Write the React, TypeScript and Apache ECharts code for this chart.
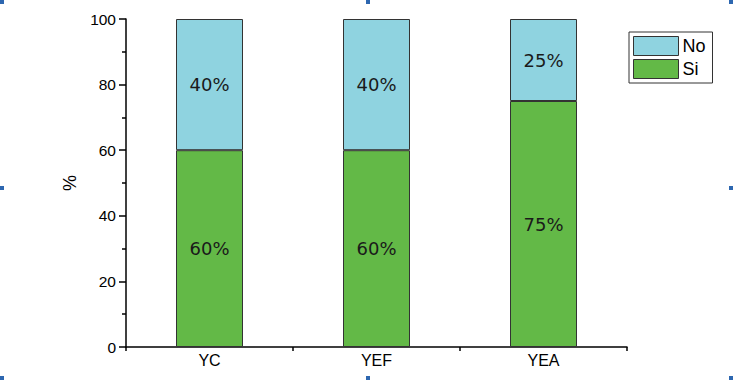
import React, { useEffect, useRef } from "react";
import * as echarts from "echarts";

const categories = ["YC", "YEF", "YEA"];
const siValues = [60, 60, 75];
const noValues = [40, 40, 25];
const yTicks = { min: 0, max: 100, interval: 20 };

export default function App() {
  const ref = useRef<HTMLDivElement>(null);
  useEffect(() => {
    if (!ref.current) return;
    const chart = echarts.init(ref.current, null, { renderer: "svg" });
    const font = "Arial, 'Liberation Sans', sans-serif";
    const wide = "'DejaVu Sans', Arial, sans-serif";
    const handle = (x: number, y: number) => ({
      type: "rect",
      shape: { x, y, width: 4, height: 4 },
      style: { fill: "#2d67b0" },
      silent: true,
    });
    chart.setOption({
      animation: false,
      backgroundColor: "#ffffff",
      textStyle: { fontFamily: font },
      grid: { left: 126, right: 106, top: 19, bottom: 33, containLabel: false },
      legend: {
        data: ["No", "Si"],
        orient: "vertical",
        left: 629,
        top: 32,
        itemWidth: 45,
        itemHeight: 19,
        itemGap: 3,
        padding: [4, 7, 4, 4],
        borderColor: "#333",
        borderWidth: 1,
        textStyle: { fontSize: 18, color: "#000", fontFamily: font, padding: [0, 0, 0, -1] },
        icon: "rect",
        itemStyle: { borderColor: "#333", borderWidth: 1 },
      },
      xAxis: [
        {
          type: "category",
          data: categories,
          axisLine: { lineStyle: { color: "#000", width: 1.5 } },
          axisTick: { alignWithLabel: true, length: 5, lineStyle: { color: "#000", width: 1.5 } },
          axisLabel: { color: "#000", fontSize: 16, margin: 5, fontFamily: font },
        },
        {
          type: "category",
          data: categories,
          position: "bottom",
          axisLine: { show: false },
          axisTick: { show: true, alignWithLabel: false, length: 4, lineStyle: { color: "#000", width: 1.5 } },
          axisLabel: { show: false },
        },
      ],
      yAxis: {
        type: "value",
        min: yTicks.min,
        max: yTicks.max,
        interval: yTicks.interval,
        name: "%",
        nameLocation: "middle",
        nameGap: 47,
        nameRotate: 90,
        nameTextStyle: { fontSize: 18, color: "#000", fontFamily: font },
        axisLine: { show: true, lineStyle: { color: "#000", width: 1.5 } },
        axisTick: { show: true, length: 7, lineStyle: { color: "#000", width: 1.5 } },
        minorTick: { show: true, splitNumber: 2, length: 4, lineStyle: { color: "#000", width: 1.5 } },
        splitLine: { show: false },
        axisLabel: { color: "#000", fontSize: 15.5, margin: 10, fontFamily: font },
      },
      series: [
        {
          name: "Si",
          type: "bar",
          stack: "total",
          barWidth: 67,
          data: siValues,
          itemStyle: { color: "#63b947", borderColor: "#333", borderWidth: 1 },
          label: { show: true, position: "inside", formatter: "{c}%", fontSize: 18, color: "#1a1a1a", fontFamily: wide },
        },
        {
          name: "No",
          type: "bar",
          stack: "total",
          barWidth: 67,
          data: noValues,
          itemStyle: { color: "#8fd3e0", borderColor: "#333", borderWidth: 1 },
          label: { show: true, position: "inside", formatter: "{c}%", fontSize: 18, color: "#1a1a1a", fontFamily: wide },
        },
      ],
      graphic: [
        handle(0, 0),
        handle(366, 0),
        handle(729, 0),
        handle(0, 186),
        handle(729, 186),
        handle(0, 376),
        handle(366, 376),
        handle(729, 376),
      ],
    });
    return () => chart.dispose();
  }, []);
  return (
    <div
      ref={ref}
      style={{ position: "fixed", left: 0, top: 0, width: 733, height: 380, background: "#fff" }}
    />
  );
}
